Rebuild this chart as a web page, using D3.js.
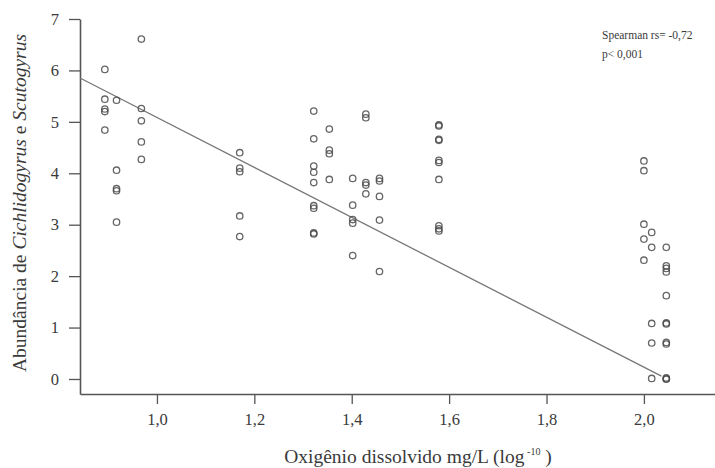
<!DOCTYPE html>
<html>
<head>
<meta charset="utf-8">
<script src="https://cdn.jsdelivr.net/npm/d3@7"></script>
<style>
  body { margin: 0; background: #fff; }
  svg { display: block; font-family: 'Liberation Serif', 'Times New Roman', serif; }
</style>
</head>
<body>
<div id="root"></div>
<script>
// oxygen (log) value for each column of points, and abundances in each column
const xColumns = [0.893, 0.917, 0.968, 1.170, 1.322, 1.354, 1.402, 1.429, 1.457, 1.579, 2.0, 2.016, 2.046];
const yColumns = [
  [6.02, 5.44, 5.25, 5.2, 4.84],
  [5.42, 4.06, 3.7, 3.66, 3.05],
  [6.61, 5.26, 5.02, 4.61, 4.27],
  [4.4, 4.1, 4.03, 3.17, 2.77],
  [5.21, 4.67, 4.14, 4.02, 3.82, 3.37, 3.32, 2.84, 2.82],
  [4.86, 4.45, 4.38, 3.88],
  [3.9, 3.38, 3.1, 3.03, 2.4],
  [5.15, 5.08, 3.82, 3.77, 3.6],
  [3.9, 3.85, 3.55, 3.09, 2.09],
  [4.94, 4.92, 4.66, 4.64, 4.25, 4.21, 3.88, 2.98, 2.92, 2.88],
  [4.24, 4.05, 3.01, 2.72, 2.31],
  [2.85, 2.56, 1.08, 0.7, 0.01],
  [2.56, 2.2, 2.15, 2.08, 1.62, 1.09, 1.07, 0.71, 0.68, 0.02, 0, 0]
];
const xTicks = [1.0, 1.2, 1.4, 1.6, 1.8, 2.0];
const yTicks = [0, 1, 2, 3, 4, 5, 6, 7];
const fitIntercept = 9.94;
const fitSlope = -4.855;
const fitRange = [0.842, 2.036];
const statLines = ['Spearman rs= -0,72', 'p< 0,001'];

const points = xColumns.flatMap((x, i) => yColumns[i].map(y => ({ x, y })));

const width = 715;
const height = 468;

const xScale = d3.scaleLinear().domain([0.842, 2.146]).range([80, 715]);
const yScale = d3.scaleLinear().domain([-0.292, 7]).range([394, 19]);

const svg = d3.select('#root')
  .append('svg')
  .attr('width', width)
  .attr('height', height);

const axisColor = '#555';
const textColor = '#3a3a3a';

const fmt = d => d3.format('.1f')(d).replace('.', ',');

const xAxis = svg.append('g')
  .attr('transform', `translate(0, ${yScale.range()[0]})`)
  .call(d3.axisBottom(xScale).tickValues(xTicks).tickFormat(fmt).tickSize(10).tickSizeOuter(0).tickPadding(9));

const yAxis = svg.append('g')
  .attr('transform', `translate(${xScale.range()[0]}, 0)`)
  .call(d3.axisLeft(yScale).tickValues(yTicks).tickFormat(d3.format('d')).tickSize(11).tickSizeOuter(0).tickPadding(10));

[xAxis, yAxis].forEach(g => {
  g.select('.domain').attr('stroke', axisColor).attr('stroke-width', 1.6);
  g.selectAll('.tick line').attr('stroke', axisColor).attr('stroke-width', 1.3);
  g.selectAll('.tick text')
    .attr('fill', textColor)
    .attr('font-size', 16.5)
    .attr('font-family', "'Liberation Serif', serif");
});

// regression line
svg.append('line')
  .attr('x1', xScale(fitRange[0]))
  .attr('y1', yScale(fitIntercept + fitSlope * fitRange[0]))
  .attr('x2', xScale(fitRange[1]))
  .attr('y2', yScale(fitIntercept + fitSlope * fitRange[1]))
  .attr('stroke', '#777')
  .attr('stroke-width', 1.3);

svg.append('g')
  .selectAll('circle')
  .data(points)
  .join('circle')
  .attr('cx', d => xScale(d.x))
  .attr('cy', d => yScale(d.y))
  .attr('r', 3.2)
  .attr('fill', 'none')
  .attr('stroke', '#4a4a4a')
  .attr('stroke-opacity', 0.85)
  .attr('stroke-width', 1.3);

// axis titles
const xTitle = svg.append('text')
  .attr('x', 418)
  .attr('y', 463)
  .attr('text-anchor', 'middle')
  .attr('font-size', 19.5)
  .attr('fill', textColor);
xTitle.append('tspan').text('Oxigênio dissolvido mg/L (log');
xTitle.append('tspan').attr('font-size', 10).attr('dy', -8).text(' -10');
xTitle.append('tspan').attr('dy', 8).text(' )');

const yTitle = svg.append('text')
  .attr('transform', 'translate(26, 203) rotate(-90)')
  .attr('text-anchor', 'middle')
  .attr('font-size', 19.5)
  .attr('fill', textColor);
yTitle.append('tspan').text('Abundância de ');
yTitle.append('tspan').attr('font-style', 'italic').text('Cichlidogyrus');
yTitle.append('tspan').text(' e ');
yTitle.append('tspan').attr('font-style', 'italic').text('Scutogyrus');

svg.append('g')
  .selectAll('text')
  .data(statLines)
  .join('text')
  .attr('x', 602)
  .attr('y', (d, i) => 39 + i * 19)
  .attr('font-size', 11.5)
  .attr('fill', textColor)
  .text(d => d);
</script>
</body>
</html>
